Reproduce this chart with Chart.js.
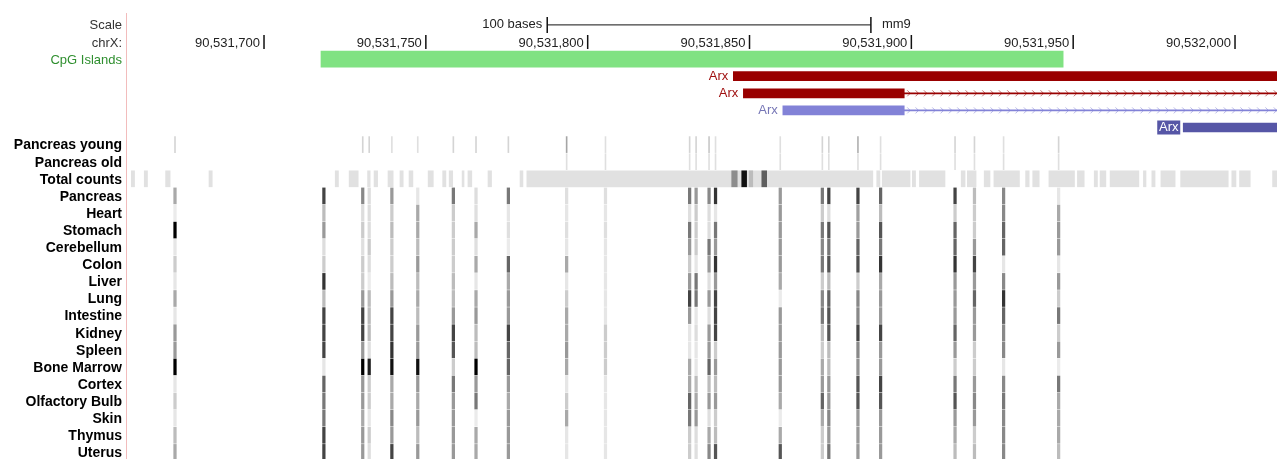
<!DOCTYPE html>
<html>
<head>
<meta charset="utf-8">
<title>chrX Arx – CpG methylation</title>
<script src="https://cdn.jsdelivr.net/npm/chart.js@4/dist/chart.umd.min.js"></script>
<style>
  html, body { margin: 0; padding: 0; background: #fff; overflow: hidden; }
  canvas { display: block; }
</style>
</head>
<body>
<canvas id="browser" width="1277" height="459"></canvas>
<script>
// ── DATA ──────────────────────────────────────────────
// every position is in bases, relative to chromStart (chrX, mm9)
const chromStart = 90531600;
const viewRange  = [57.36, 412.97];

const rowLabels = [
  'Scale', 'chrX:', 'CpG Islands', '', '', '', '',
  'Pancreas young', 'Pancreas old', 'Total counts',
  'Pancreas', 'Heart', 'Stomach', 'Cerebellum', 'Colon', 'Liver', 'Lung', 'Intestine',
  'Kidney', 'Spleen', 'Bone Marrow', 'Cortex', 'Olfactory Bulb', 'Skin', 'Thymus', 'Uterus'
];

const tickBases = [100, 150, 200, 250, 300, 350, 400];
const scaleBar  = [187.5, 287.5];          // 100 bases
const cpgIsland = [117.6, 346.9];

const geneNames  = ['Arx', 'Arx', 'Arx', 'Arx'];
const geneRows   = [3, 4, 5, 6];
const geneThick  = [[245.0, 420], [248.1, 297.8], [260.3, 297.8], [384.0, 420]];
const geneIntron = [null, [297.8, 420], [297.8, 420], null];

// CpG sites (1-based base) and per-tissue methylation (%)
const cpgSites = [73, 119, 131, 133, 140, 148, 159, 166, 176, 194, 206, 232,
                  234, 238, 240, 260, 273, 275, 284, 291, 314, 320, 329, 346];

const pancreasYoung = [10, null, 10, 10, 5, 5, 10, 10, 10, 30, 5, 10, 10, 15, 5, 5, 10, 10, 25, 5, 10, 10, 5, 10];
const pancreasOld   = [null, null, null, null, null, null, null, null, null, 5, 5, 5, 5, 5, 5, 5, 5, 5, 5, 5, 5, 5, 5, 5];

const methPancreas   = [28, 71, 42, 6, 35, 2, 49, 6, 49, 5, 5, 49, 35, 42, 78, 35, 49, 71, 71, 57, 71, 20, 42, 2];
const methHeart      = [0, 20, 6, 6, 13, 28, 13, 5, 2, 2, 2, 5, 13, 6, 2, 35, 13, 6, 32, 20, 13, 13, 42, 28];
const methStomach    = [100, 35, 13, 6, 20, 28, 13, 28, 5, 5, 5, 49, 13, 6, 49, 35, 49, 64, 35, 64, 57, 13, 57, 35];
const methCerebellum = [2, 6, 5, 13, 13, 20, 13, 5, 0, 2, 2, 35, 13, 49, 35, 35, 42, 49, 57, 49, 57, 35, 57, 35];
const methColon      = [13, 13, 13, 6, 13, 35, 13, 28, 57, 28, 2, 13, 2, 35, 78, 35, 49, 64, 67, 78, 78, 71, 2, 2];
const methLiver      = [2, 78, 13, 0, 20, 20, 20, 2, 28, 2, 2, 35, 49, 5, 35, 28, 13, 20, 13, 28, 35, 35, 42, 35];
const methLung       = [28, 20, 35, 20, 35, 28, 20, 28, 35, 13, 2, 71, 49, 35, 71, 0, 42, 57, 42, 35, 35, 57, 78, 13];
const methIntestine  = [2, 71, 71, 20, 71, 20, 35, 35, 35, 28, 2, 35, 2, 5, 71, 35, 49, 64, 42, 35, 35, 35, 57, 49];
const methKidney     = [35, 71, 71, 20, 71, 35, 71, 20, 71, 28, 13, 2, 6, 35, 71, 35, 20, 64, 71, 71, 57, 35, 42, 13];
const methSpleen     = [35, 71, 35, 5, 78, 35, 64, 20, 57, 35, 13, 2, 2, 35, 13, 35, 13, 20, 42, 35, 35, 13, 42, 35];
const methBoneMarrow = [100, 2, 100, 86, 93, 93, 13, 100, 57, 28, 13, 28, 2, 57, 35, 35, 28, 20, 38, 35, 13, 13, 2, 0];
const methCortex     = [2, 57, 35, 13, 28, 35, 49, 35, 35, 2, 2, 28, 20, 20, 20, 35, 35, 35, 64, 71, 49, 35, 42, 49];
const methOlfactory  = [13, 49, 35, 13, 28, 28, 35, 49, 28, 13, 2, 57, 28, 35, 35, 28, 57, 35, 64, 64, 64, 42, 49, 28];
const methSkin       = [2, 49, 28, 2, 42, 35, 35, 0, 35, 28, 2, 49, 35, 5, 13, 0, 28, 42, 35, 35, 35, 35, 42, 28];
const methThymus     = [20, 71, 35, 13, 35, 20, 35, 28, 35, 2, 2, 13, 6, 28, 20, 28, 13, 35, 35, 35, 28, 13, 42, 28];
const methUterus     = [28, 71, 35, 6, 71, 35, 35, 28, 35, 2, 2, 13, 5, 42, 64, 64, 13, 49, 35, 35, 20, 20, 42, 20];

// Total counts: covered stretches and the few darker peaks
const coverage = [
  [59, 60], [63, 64], [69.6, 71], [83, 84], [122, 123], [126.3, 129.1], [132, 132.8], [134, 135.1],
  [138.3, 139.9], [142, 143], [144.8, 146], [150.7, 152.3], [155.2, 156.2], [157.2, 158.3],
  [161.2, 161.8], [163, 164.2], [169.2, 170.3], [179.1, 180], [181.2, 288.1], [289.3, 290.3],
  [291, 299.6], [300.3, 301.3], [302.5, 310.4], [315.4, 316.6], [317.3, 320], [322.5, 324.3],
  [325.5, 333.4], [335.3, 336.4], [337.5, 339.5], [342.5, 350.4], [351.3, 353.4], [356.5, 357.5],
  [358.3, 360.1], [361.4, 370.3], [371.7, 372.5], [374.3, 375.3], [377.1, 381.5], [383.2, 397.9],
  [399, 400.3], [401.4, 404.7], [411.6, 413]
];
const coveragePeaks    = [[244.5, 246.2], [247.6, 249.1], [249.9, 251], [253.8, 255.3]];
const coveragePeakVals = [40, 93, 20, 60];

// ── HELPERS ───────────────────────────────────────────
const FONT = '"Liberation Sans", Arial, Helvetica, sans-serif';
const shade = v => { const g = Math.round(235 - 2.35 * v); return `rgb(${g},${g},${g})`; };
const geneFill  = ['#990000', '#990000', '#8282d7', '#5656a6'];
const geneLabel = ['#a01010', '#a01010', '#7676b6', '#ffffff'];

const tissueRows = [methPancreas, methHeart, methStomach, methCerebellum, methColon, methLiver,
  methLung, methIntestine, methKidney, methSpleen, methBoneMarrow, methCortex, methOlfactory,
  methSkin, methThymus, methUterus];

const cells = [];
tissueRows.forEach((vals, i) => vals.forEach((v, j) => {
  if (v != null) cells.push({ x: [cpgSites[j] - 0.9, cpgSites[j] - 0.1], y: 10 + i, v });
}));

const thinLines = [];
[pancreasYoung, pancreasOld].forEach((vals, i) => vals.forEach((v, j) => {
  if (v != null) thinLines.push({ x: [cpgSites[j] - 0.65, cpgSites[j] - 0.35], y: 7 + i, v });
}));

const barSet = (data, thickness, color, order) => ({
  type: 'bar', indexAxis: 'y', grouped: false, data, order,
  barThickness: thickness, backgroundColor: color, borderWidth: 0
});

// ── TEXT LAYER (labels placed through the scales) ─────
const trackText = {
  id: 'trackText',
  afterDatasetsDraw(chart) {
    const { ctx, chartArea, scales: { x, y } } = chart;
    ctx.save();
    ctx.font = `13px ${FONT}`;
    ctx.textBaseline = 'middle';

    // coordinate labels left of each tick
    ctx.fillStyle = '#222';
    ctx.textAlign = 'right';
    tickBases.forEach(t => {
      ctx.fillText((chromStart + t).toLocaleString('en-US'), x.getPixelForValue(t) - 4, y.getPixelForValue(1) + 1.5);
    });

    // scale bar text
    ctx.fillText('100 bases', x.getPixelForValue(scaleBar[0]) - 5, y.getPixelForValue(0));
    ctx.textAlign = 'left';
    ctx.fillText('mm9', x.getPixelForValue(scaleBar[1]) + 11, y.getPixelForValue(0));

    // intron chevrons
    ctx.beginPath();
    ctx.rect(chartArea.left, chartArea.top, chartArea.right - chartArea.left, chartArea.bottom - chartArea.top);
    ctx.clip();
    geneIntron.forEach((seg, i) => {
      if (!seg) return;
      const cy = y.getPixelForValue(geneRows[i]);
      const x1 = Math.min(x.getPixelForValue(seg[1]), chartArea.right);
      ctx.strokeStyle = geneFill[i];
      ctx.globalAlpha = 0.55;
      ctx.lineWidth = 1;
      for (let cx = x.getPixelForValue(seg[0]) + 4.5; cx < x1; cx += 8.33) {
        ctx.beginPath();
        ctx.moveTo(cx - 1.5, cy - 3);
        ctx.lineTo(cx + 1.5, cy);
        ctx.lineTo(cx - 1.5, cy + 3);
        ctx.stroke();
      }
      ctx.globalAlpha = 1;
    });

    // gene name labels
    geneNames.forEach((name, i) => {
      const left = x.getPixelForValue(geneThick[i][0]);
      const cy = y.getPixelForValue(geneRows[i]);
      if (i === 3) {
        ctx.fillStyle = geneFill[i];
        ctx.fillRect(left - 26, cy - 7, 23, 14);
        ctx.fillStyle = geneLabel[i];
        ctx.textAlign = 'center';
        ctx.fillText(name, left - 14.5, cy);
      } else {
        ctx.fillStyle = geneLabel[i];
        ctx.textAlign = 'right';
        ctx.fillText(name, left - 5, cy);
      }
    });
    ctx.restore();
  }
};

// ── CHART ─────────────────────────────────────────────
new Chart(document.getElementById('browser'), {
  type: 'bar',
  data: {
    datasets: [
      barSet(coveragePeaks.map((s, i) => ({ x: s, y: 9, v: coveragePeakVals[i] })), 16, c => shade(c.raw.v), 0),
      barSet(coverage.map(s => ({ x: s, y: 9 })), 16, '#e1e1e1', 1),
      barSet(cells, 16, c => shade(c.raw.v), 2),
      barSet(thinLines, 16, c => shade(c.raw.v), 3),
      barSet([{ x: cpgIsland, y: 2 }], 16, '#80e282', 4),
      barSet(geneThick.map((s, i) => ({ x: s, y: geneRows[i] })), 9, geneFill, 5),
      barSet(geneIntron.map((s, i) => s && ({ x: s, y: geneRows[i] })).filter(Boolean), 1,
             [geneFill[1], geneFill[2]], 6),
      {
        type: 'scatter', order: 7,
        data: tickBases.map(t => ({ x: t, y: 1 })),
        pointStyle: 'line', rotation: 90, radius: 7,
        borderColor: '#111', borderWidth: 1.5
      },
      {
        type: 'line', order: 8,
        data: scaleBar.map(b => ({ x: b, y: 0 })),
        borderColor: '#111', borderWidth: 1,
        pointStyle: 'line', pointRotation: 90, pointRadius: 8,
        pointBorderColor: '#111', pointBorderWidth: 1.5
      }
    ]
  },
  options: {
    responsive: false,
    animation: false,
    layout: { autoPadding: false, padding: { top: 13, left: 0, right: 0, bottom: 0 } },
    plugins: { legend: { display: false }, tooltip: { enabled: false } },
    scales: {
      x: {
        type: 'linear', display: false, offset: false, grid: { offset: false },
        min: viewRange[0], max: viewRange[1]
      },
      y: {
        type: 'linear', reverse: true, offset: false, min: -0.696, max: 25.386,
        afterBuildTicks: s => { s.ticks = rowLabels.map((_, i) => ({ value: i })); },
        afterFit: s => { s.width = 126; s.paddingTop = 0; s.paddingBottom = 0; },
        grid: { display: false, drawTicks: false, offset: false },
        border: { display: true, color: '#f2bcbc', width: 1 },
        ticks: {
          autoSkip: false, padding: 4, labelOffset: 1,
          callback: v => rowLabels[v],
          font: c => c.index >= 7 ? { family: FONT, size: 14, weight: 'bold' } : { family: FONT, size: 13 },
          color: c => c.index === 2 ? '#2f8f2f' : (c.index < 7 ? '#333' : '#000')
        }
      }
    }
  },
  plugins: [trackText]
});
</script>
</body>
</html>
